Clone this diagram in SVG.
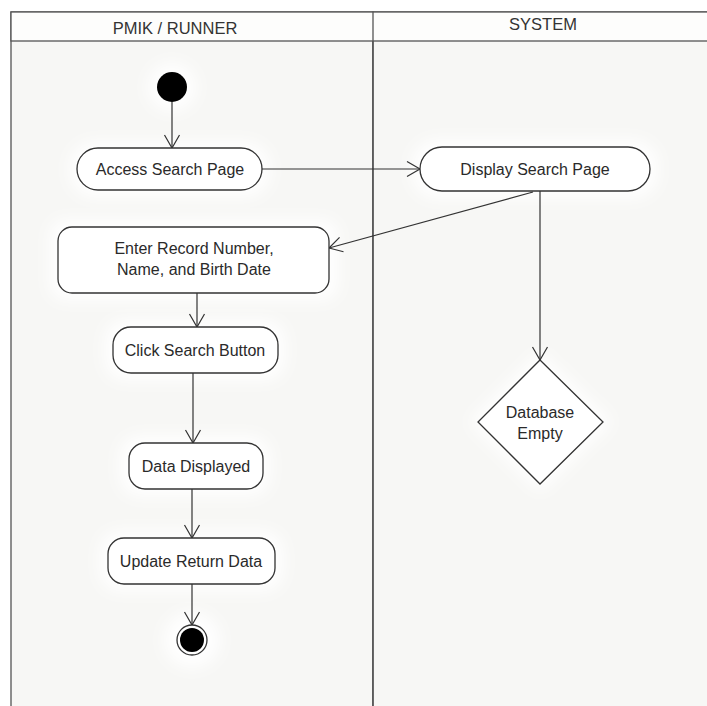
<svg xmlns="http://www.w3.org/2000/svg" width="707" height="706" viewBox="0 0 707 706">
  <defs>
    <marker id="open" markerWidth="18" markerHeight="18" refX="14" refY="9" orient="auto" markerUnits="userSpaceOnUse">
      <path d="M1,1.5 L14,9 L1,16.5" fill="none" stroke="#333" stroke-width="1.2"/>
    </marker>
    <filter id="glow" x="-30%" y="-30%" width="160%" height="160%">
      <feGaussianBlur stdDeviation="8"/>
    </filter>
  </defs>
  <style>
    .lane { fill: #f7f7f5; stroke: #555; stroke-width: 1.3; }
    .hdr { font-family: "Liberation Sans", Arial, sans-serif; font-size: 16.5px; fill: #333; text-anchor: middle; }
    .node { fill: #ffffff; stroke: #333; stroke-width: 1.3; }
    .lbl { font-family: "Liberation Sans", Arial, sans-serif; font-size: 16px; fill: #2a2a2a; text-anchor: middle; dominant-baseline: central; }
    .edge { fill: none; stroke: #333; stroke-width: 1.2; marker-end: url(#open); }
    .halo { fill: #ffffff; filter: url(#glow); }
  </style>
  <rect x="0" y="0" width="707" height="706" fill="#ffffff"/>
  <g id="swimlanes">
    <rect class="lane" x="11" y="12" width="362" height="700"/>
    <rect class="lane" x="373" y="12" width="340" height="700"/>
    <rect x="11" y="12" width="702" height="29" fill="#fdfdfc" stroke="#555" stroke-width="1.3"/>
    <line x1="373" y1="12" x2="373" y2="706" stroke="#555" stroke-width="1.3"/>
    <text class="hdr" x="175" y="34">PMIK / RUNNER</text>
    <text class="hdr" x="543" y="30">SYSTEM</text>
  </g>
  <g id="halos">
    <circle class="halo" cx="172" cy="87" r="24"/>
    <rect class="halo" x="70" y="142" width="200" height="55" rx="25"/>
    <rect class="halo" x="412" y="140" width="246" height="58" rx="25"/>
    <rect class="halo" x="50" y="220" width="288" height="80" rx="15"/>
    <rect class="halo" x="105" y="320" width="180" height="60" rx="20"/>
    <rect class="halo" x="120" y="436" width="150" height="60" rx="20"/>
    <rect class="halo" x="100" y="531" width="183" height="60" rx="20"/>
    <circle class="halo" cx="192" cy="640" r="28"/>
    <polygon class="halo" points="540,352 612,422 540,492 470,422"/>
  </g>
  <g id="connectors">
    <line class="edge" x1="172" y1="102" x2="172" y2="148"/>
    <line class="edge" x1="262" y1="169" x2="420" y2="169"/>
    <line class="edge" x1="533" y1="192" x2="329" y2="248"/>
    <line class="edge" x1="540" y1="191" x2="540" y2="360"/>
    <line class="edge" x1="197" y1="293" x2="197" y2="327"/>
    <line class="edge" x1="193" y1="373" x2="193" y2="443"/>
    <line class="edge" x1="192" y1="489" x2="192" y2="538"/>
    <line class="edge" x1="192" y1="584" x2="192" y2="625"/>
  </g>
  <g id="start">
    <circle cx="172" cy="87" r="15" fill="#000"/>
  </g>
  <g id="access-search-page">
    <rect class="node" x="77" y="148" width="185" height="42" rx="21"/>
    <text class="lbl" x="170" y="169">Access Search Page</text>
  </g>
  <g id="display-search-page">
    <rect class="node" x="420" y="147" width="230" height="44" rx="22"/>
    <text class="lbl" x="535" y="169">Display Search Page</text>
  </g>
  <g id="enter-record">
    <rect class="node" x="58" y="227" width="271" height="66" rx="14"/>
    <text class="lbl" x="194" y="248">Enter Record Number,</text>
    <text class="lbl" x="194" y="269">Name, and Birth Date</text>
  </g>
  <g id="click-search-button">
    <rect class="node" x="113" y="327" width="165" height="46" rx="18"/>
    <text class="lbl" x="195" y="350">Click Search Button</text>
  </g>
  <g id="database-empty">
    <polygon class="node" points="540,360 603,422 540,484 478,422"/>
    <text class="lbl" x="540" y="412">Database</text>
    <text class="lbl" x="540" y="433">Empty</text>
  </g>
  <g id="data-displayed">
    <rect class="node" x="129" y="443" width="134" height="46" rx="16"/>
    <text class="lbl" x="196" y="466">Data Displayed</text>
  </g>
  <g id="update-return-data">
    <rect class="node" x="108" y="538" width="167" height="46" rx="16"/>
    <text class="lbl" x="191" y="561">Update Return Data</text>
  </g>
  <g id="end">
    <circle cx="192" cy="640" r="15" fill="#fff" stroke="#333" stroke-width="1.3"/>
    <circle cx="192" cy="640" r="12" fill="#000"/>
  </g>
</svg>
